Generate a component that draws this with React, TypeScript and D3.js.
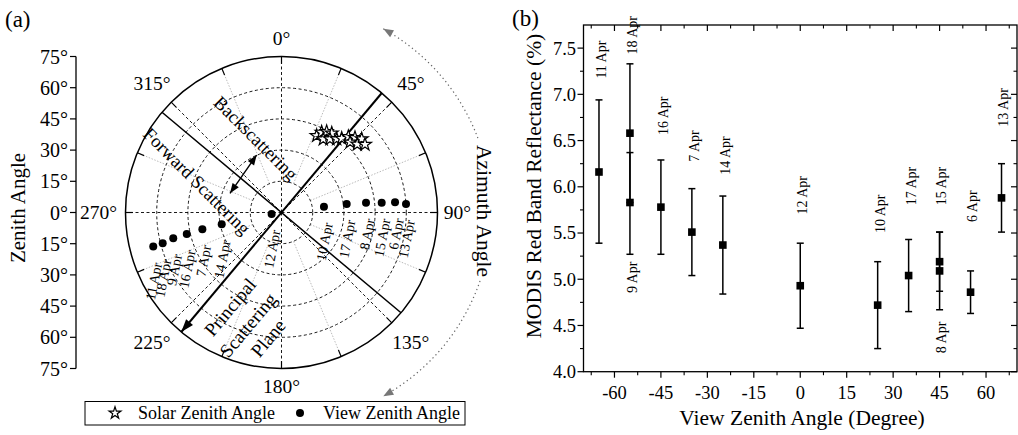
import React from 'react';
import * as d3 from 'd3';

// ---------- Panel (b) data ----------
const vzaB = [-65, -55, -55, -45, -35, -25, 0, 25, 35, 45, 45, 55, 65];
const dateB = ['11 Apr', '18 Apr', '9 Apr', '16 Apr', '7 Apr', '14 Apr', '12 Apr', '10 Apr', '17 Apr', '15 Apr', '8 Apr', '6 Apr', '13 Apr'];
const reflB = [6.16, 6.58, 5.83, 5.78, 5.51, 5.37, 4.93, 4.72, 5.04, 5.19, 5.09, 4.86, 5.88];
const errLoB = [5.39, 5.83, 5.27, 5.27, 5.04, 4.84, 4.47, 4.25, 4.65, 4.87, 4.67, 4.63, 5.51];
const errHiB = [6.94, 7.33, 6.37, 6.29, 5.98, 5.90, 5.39, 5.19, 5.43, 5.51, 5.51, 5.09, 6.25];
const labelAtB = [7.17, 7.43, 4.85, 6.56, 6.27, 6.13, 5.70, 5.50, 5.80, 5.80, 4.20, 5.62, 6.65];
const xTicksB = [-60, -45, -30, -15, 0, 15, 30, 45, 60];
const yTicksB = [4.0, 4.5, 5.0, 5.5, 6.0, 6.5, 7.0, 7.5];

// ---------- Panel (a) data ----------
const dateA = ['10 Apr', '17 Apr', '8 Apr', '15 Apr', '6 Apr', '13 Apr', '12 Apr', '14 Apr', '7 Apr', '16 Apr', '9 Apr', '18 Apr', '11 Apr'];
const vzaA = [20.6, 31.6, 40.9, 48.4, 54.8, 60.0, 4.8, 29.3, 38.9, 46.7, 53.5, 59.0, 63.8];
const vaaA = [82.2, 82.6, 83.4, 84.4, 84.9, 86.1, 261.3, 258.8, 258.0, 257.2, 256.6, 255.5, 255.1];
const szaA = [40.6, 43.1, 44.5, 45.1, 40.6, 42.3, 44.2, 45.9, 48.6, 50.4, 52.3, 47.2, 49.0, 51.8];
const saaA = [24.6, 26.6, 29.2, 32.4, 29.6, 33.4, 36.9, 39.1, 41.4, 44.5, 47.5, 44.3, 48.0, 50.8];
const ringsA = [15, 30, 45, 60];
const zenTicksA = [-75, -60, -45, -30, -15, 0, 15, 30, 45, 60, 75];
const azLabelsA = [0, 45, 90, 135, 180, 225, 270, 315];
const principalAz = 40;

const FONT = "'Liberation Serif','Times New Roman',Times,serif";

export default function App() {
  // polar geometry
  const cx = 281.5, cy = 212.5, R = 156;
  const rS = d3.scaleLinear().domain([0, 75]).range([0, R]);
  const rad = (a: number) => (a * Math.PI) / 180;
  const pt = (zen: number, az: number): [number, number] => [
    cx + rS(zen) * Math.sin(rad(az)),
    cy - rS(zen) * Math.cos(rad(az)),
  ];
  const zenAxis = d3.scaleLinear().domain([-75, 75]).range([cy + R, cy - R]);

  // panel b scales
  const xB = d3.scaleLinear().domain([-70, 70]).range([583.5, 1017]);
  const yB = d3.scaleLinear().domain([4, 7.75]).range([371.7, 25]);
  const xMinor = d3.range(-67.5, 70, 7.5).filter((v) => Math.abs(v % 15) > 1e-6);
  const yMinor = d3.range(4.25, 7.75, 0.5);

  const arrowHead = (tip: [number, number], dir: [number, number], len: number, half: number) => {
    const n = Math.hypot(dir[0], dir[1]);
    const ux = dir[0] / n, uy = dir[1] / n;
    const bx = tip[0] - ux * len, by = tip[1] - uy * len;
    return `M${tip[0]},${tip[1]}L${bx - uy * half},${by + ux * half}L${bx + uy * half},${by - ux * half}Z`;
  };

  // azimuth dotted arc
  const azR = 210;
  const arcPath = (a0: number, a1: number) => {
    const p = d3.path();
    p.arc(cx, cy, azR, rad(a0 - 90), rad(a1 - 90));
    return p.toString();
  };
  const azTop = 29, azBot = 151;
  const topTip: [number, number] = [cx + azR * Math.sin(rad(azTop)), cy - azR * Math.cos(rad(azTop))];
  const botTip: [number, number] = [cx + azR * Math.sin(rad(azBot)), cy - azR * Math.cos(rad(azBot))];

  const starPath = d3.symbol(d3.symbolStar, 52)() as string;
  const legendStar = d3.symbol(d3.symbolStar, 44)() as string;

  const ppA = pt(75, principalAz);
  const ppB = pt(75, principalAz + 180);
  const pqA = pt(75, principalAz + 90);
  const pqB = pt(75, principalAz + 270);

  return (
    <svg width={1018} height={435} style={{ position: 'absolute', left: 0, top: 0, background: '#fff' }} fontFamily={FONT}>
      <rect x={0} y={0} width={1018} height={435} fill="#fff" />
      {/* ================= Panel (a) ================= */}
      <text x={5} y={27} fontSize={23}>(a)</text>

      {/* zenith axis */}
      <line x1={76} x2={76} y1={zenAxis(-75)} y2={zenAxis(75)} stroke="#000" strokeWidth={1.3} />
      {zenTicksA.map((v) => (
        <g key={'zt' + v}>
          <line x1={70} x2={76} y1={zenAxis(v)} y2={zenAxis(v)} stroke="#000" strokeWidth={1.2} />
          <text x={68} y={zenAxis(v)} dy="0.35em" textAnchor="end" fontSize={20}>{Math.abs(v)}°</text>
        </g>
      ))}
      <text transform={`translate(18,208) rotate(-90)`} textAnchor="middle" dy="0.35em" fontSize={21}>Zenith Angle</text>

      {/* grid: gray dotted radials */}
      {d3.range(22.5, 360, 45).map((a) => {
        const p0 = pt(15, a), p1 = pt(75, a);
        return <line key={'g' + a} x1={p0[0]} y1={p0[1]} x2={p1[0]} y2={p1[1]} stroke="#aaa" strokeWidth={0.8} strokeDasharray="1.5,1.5" />;
      })}
      {/* black dashed radials */}
      {d3.range(0, 360, 45).map((a) => {
        const p1 = pt(75, a);
        return <line key={'r' + a} x1={cx} y1={cy} x2={p1[0]} y2={p1[1]} stroke="#000" strokeWidth={0.9} strokeDasharray="3,2.5" />;
      })}
      {ringsA.map((z) => (
        <circle key={'ring' + z} cx={cx} cy={cy} r={rS(z)} fill="none" stroke="#000" strokeWidth={0.9} strokeDasharray="3,2.5" />
      ))}
      <circle cx={cx} cy={cy} r={R} fill="none" stroke="#000" strokeWidth={1.5} />
      {d3.range(0, 360, 22.5).map((a) => {
        const p0 = pt(71.5, a), p1 = pt(75, a);
        return <line key={'tk' + a} x1={p0[0]} y1={p0[1]} x2={p1[0]} y2={p1[1]} stroke="#000" strokeWidth={1.2} />;
      })}

      {/* azimuth labels */}
      {azLabelsA.map((a) => {
        const rr = a % 90 !== 0 ? 183 : a === 270 ? 183 : a === 90 ? 176 : 174;
        const x = cx + rr * Math.sin(rad(a));
        const y = cy - rr * Math.cos(rad(a));
        return <text key={'al' + a} x={x} y={y} dy="0.35em" textAnchor="middle" fontSize={19.5}>{a}°</text>;
      })}

      {/* principal plane & perpendicular */}
      <line x1={pqA[0]} y1={pqA[1]} x2={pqB[0]} y2={pqB[1]} stroke="#000" strokeWidth={1.5} />
      <line x1={ppA[0]} y1={ppA[1]} x2={ppB[0]} y2={ppB[1]} stroke="#000" strokeWidth={2} />
      <path d={arrowHead(ppB, [ppB[0] - cx, ppB[1] - cy], 13, 4.5)} fill="#000" />

      {/* forward/back arrow */}
      <line x1={230} y1={193.3} x2={256.7} y2={155} stroke="#000" strokeWidth={1.3} />
      <path d={arrowHead([230, 193.3], [230 - 256.7, 193.3 - 155], 10, 3.8)} fill="#000" />
      <path d={arrowHead([256.7, 155], [256.7 - 230, 155 - 193.3], 10, 3.8)} fill="#000" />

      <text transform="translate(256,138) rotate(45)" textAnchor="middle" dy="0.35em" fontSize={18.5}>Backscattering</text>
      <text transform="translate(197,181) rotate(45)" textAnchor="middle" dy="0.35em" fontSize={18.5}>Forward Scattering</text>
      <text transform="translate(230,307) rotate(-50)" textAnchor="middle" dy="0.35em" fontSize={19}>Principal</text>
      <text transform="translate(248,325) rotate(-50)" textAnchor="middle" dy="0.35em" fontSize={19}>Scattering</text>
      <text transform="translate(268,338) rotate(-50)" textAnchor="middle" dy="0.35em" fontSize={19}>Plane</text>

      {/* solar stars */}
      {szaA.map((z, i) => {
        const [x, y] = pt(z, saaA[i]);
        return <path key={'s' + i} d={starPath} transform={`translate(${x},${y})`} fill="#fff" stroke="#000" strokeWidth={1.2} />;
      })}
      {/* view points */}
      {vzaA.map((z, i) => {
        const [x, y] = pt(z, vaaA[i]);
        return (
          <g key={'v' + i}>
            <circle cx={x} cy={y} r={4} fill="#000" />
            <text transform={`translate(${x + 4},${y + 16}) rotate(-79)`} textAnchor="end" dy="0.35em" fontSize={14}>{dateA[i]}</text>
          </g>
        );
      })}

      {/* azimuth dotted arc */}
      <path d={arcPath(azTop, 70)} fill="none" stroke="#666" strokeWidth={1.2} strokeDasharray="1.3,3" />
      <path d={arcPath(109, azBot)} fill="none" stroke="#666" strokeWidth={1.2} strokeDasharray="1.3,3" />
      <path d={arrowHead(topTip, [-Math.cos(rad(azTop)), -Math.sin(rad(azTop))], 10, 4)} fill="#777" />
      <path d={arrowHead(botTip, [Math.cos(rad(azBot)), Math.sin(rad(azBot))], 10, 4)} fill="#777" />
      <text transform="translate(485,211) rotate(90)" textAnchor="middle" dy="0.35em" fontSize={21.5}>Azimuth Angle</text>

      {/* legend */}
      <rect x={85} y={401.5} width={380} height={23.5} fill="#fff" stroke="#000" strokeWidth={1} />
      <path d={legendStar} transform="translate(115,413)" fill="#fff" stroke="#000" strokeWidth={1.2} />
      <text x={138} y={413} dy="0.35em" fontSize={18}>Solar Zenith Angle</text>
      <circle cx={300} cy={413} r={4} fill="#000" />
      <text x={323} y={413} dy="0.35em" fontSize={18}>View Zenith Angle</text>

      {/* ================= Panel (b) ================= */}
      <text x={512} y={26} fontSize={23}>(b)</text>
      <rect x={xB(-70)} y={yB(7.75)} width={xB(70) - xB(-70)} height={yB(4) - yB(7.75)} fill="none" stroke="#000" strokeWidth={1.3} />
      {xTicksB.map((v) => (
        <g key={'xt' + v}>
          <line x1={xB(v)} x2={xB(v)} y1={yB(4)} y2={yB(4) + 6} stroke="#000" strokeWidth={1.2} />
          <line x1={xB(v)} x2={xB(v)} y1={yB(7.75)} y2={yB(7.75) + 6} stroke="#000" strokeWidth={1.2} />
          <text x={xB(v)} y={399} textAnchor="middle" fontSize={18.5}>{v}</text>
        </g>
      ))}
      {xMinor.map((v) => (
        <g key={'xm' + v}>
          <line x1={xB(v)} x2={xB(v)} y1={yB(4)} y2={yB(4) + 3.5} stroke="#000" strokeWidth={1.1} />
          <line x1={xB(v)} x2={xB(v)} y1={yB(7.75)} y2={yB(7.75) + 3.5} stroke="#000" strokeWidth={1.1} />
        </g>
      ))}
      {yTicksB.map((v) => (
        <g key={'yt' + v}>
          <line x1={xB(-70) - 6} x2={xB(-70)} y1={yB(v)} y2={yB(v)} stroke="#000" strokeWidth={1.2} />
          <line x1={xB(70) - 6} x2={xB(70)} y1={yB(v)} y2={yB(v)} stroke="#000" strokeWidth={1.2} />
          <text x={576} y={yB(v)} dy="0.35em" textAnchor="end" fontSize={18.5}>{v.toFixed(1)}</text>
        </g>
      ))}
      {yMinor.map((v) => (
        <g key={'ym' + v}>
          <line x1={xB(-70) - 3.5} x2={xB(-70)} y1={yB(v)} y2={yB(v)} stroke="#000" strokeWidth={1.1} />
          <line x1={xB(70) - 3.5} x2={xB(70)} y1={yB(v)} y2={yB(v)} stroke="#000" strokeWidth={1.1} />
        </g>
      ))}
      <text transform="translate(533,186) rotate(-90)" textAnchor="middle" dy="0.35em" fontSize={21.5}>MODIS Red Band Reflectance (%)</text>
      <text x={802} y={425} textAnchor="middle" fontSize={21.5}>View Zenith Angle (Degree)</text>

      {vzaB.map((v, i) => {
        const x = xB(v);
        return (
          <g key={'b' + i}>
            <line x1={x} x2={x} y1={yB(errLoB[i])} y2={yB(errHiB[i])} stroke="#000" strokeWidth={1.5} />
            <line x1={x - 3.5} x2={x + 3.5} y1={yB(errLoB[i])} y2={yB(errLoB[i])} stroke="#000" strokeWidth={1.5} />
            <line x1={x - 3.5} x2={x + 3.5} y1={yB(errHiB[i])} y2={yB(errHiB[i])} stroke="#000" strokeWidth={1.5} />
            <rect x={x - 3.8} y={yB(reflB[i]) - 3.8} width={7.6} height={7.6} fill="#000" />
            <text transform={`translate(${x + 2},${yB(labelAtB[i])}) rotate(-90)`} textAnchor="start" dy="0.35em" fontSize={14}>{dateB[i]}</text>
          </g>
        );
      })}
    </svg>
  );
}
